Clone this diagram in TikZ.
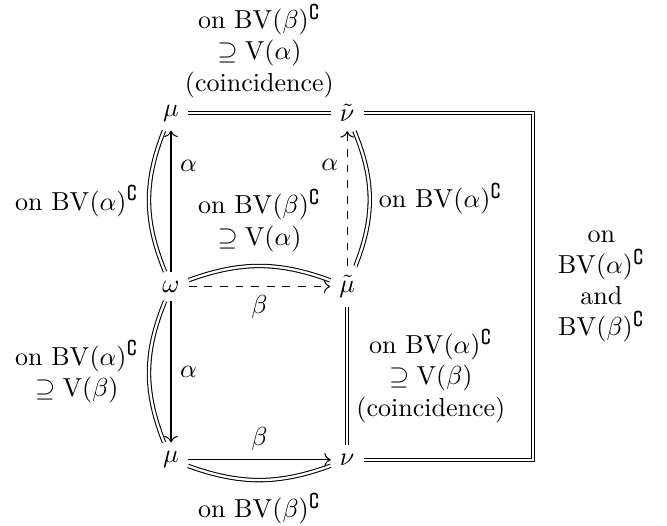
\documentclass[tikz,border=0pt]{standalone}
\usepackage{amsmath,amssymb}
\usetikzlibrary{arrows.meta,positioning}

\tikzset{
  eqline/.style={double, double distance=0.9pt},
  lbl/.style={align=center},
}

\begin{document}
\begin{tikzpicture}

  % column and row distance
  \def\dx{2.38}
  \def\dy{2.34}

  \useasboundingbox (-2.31,1.53) rectangle (6.70,-5.57);

  % objects
  \node (mua) at (0,0) {$\mu$};
  \node (nut) at (\dx,0) {$\tilde{\nu}$};
  \node (om)  at (0,-\dy) {$\omega$};
  \node (mut) at (\dx,-\dy) {$\tilde{\mu}$};
  \node (mub) at (0,-2*\dy) {$\mu$};
  \node (nu)  at (\dx,-2*\dy) {$\nu$};
  \coordinate (corner) at (4.89,0);

  % top row
  \draw[eqline] (mua) -- node[above=2.5pt, lbl] {on $\mathrm{BV}(\beta)^\complement$\\ $\supseteq \mathrm{V}(\alpha)$\\ (coincidence)} (nut);

  % upper square
  \draw[eqline] (mua) to[bend right=22] node[left=0.5pt] {on $\mathrm{BV}(\alpha)^\complement$} (om);
  \draw[->] (om) -- node[pos=0.75, right] {$\alpha$} (mua);
  \draw[->, dashed] (mut) -- node[pos=0.75, left] {$\alpha$} (nut);
  \draw[eqline] (nut) to[bend left=22] node[right] {on $\mathrm{BV}(\alpha)^\complement$} (mut);

  % middle row
  \draw[->, dashed] (om) -- node[below] {$\beta$} (mut);
  \draw[eqline] (om) to[bend left=20] node[above=2pt, lbl] {on $\mathrm{BV}(\beta)^\complement$\\ $\supseteq \mathrm{V}(\alpha)$} (mut);

  % lower square
  \draw[eqline] (om) to[bend right=22] node[left=0.5pt, lbl] {on $\mathrm{BV}(\alpha)^\complement$\\ $\supseteq \mathrm{V}(\beta)$} (mub);
  \draw[->] (om) -- node[right] {$\alpha$} (mub);
  \draw[eqline] (mut) -- node[right, lbl] {on $\mathrm{BV}(\alpha)^\complement$\\ $\supseteq \mathrm{V}(\beta)$\\ (coincidence)} (nu);

  % bottom row
  \draw[->] (mub) -- node[above] {$\beta$} (nu);
  \draw[eqline] (mub) to[bend right=20] node[below=1.5pt] {on $\mathrm{BV}(\beta)^\complement$} (nu);

  % outer frame
  \draw[eqline] (nut) -- (corner) |- node[pos=0.25, right=6pt, lbl] {on\\ $\mathrm{BV}(\alpha)^\complement$\\ and\\ $\mathrm{BV}(\beta)^\complement$} (nu);

\end{tikzpicture}
\end{document}
